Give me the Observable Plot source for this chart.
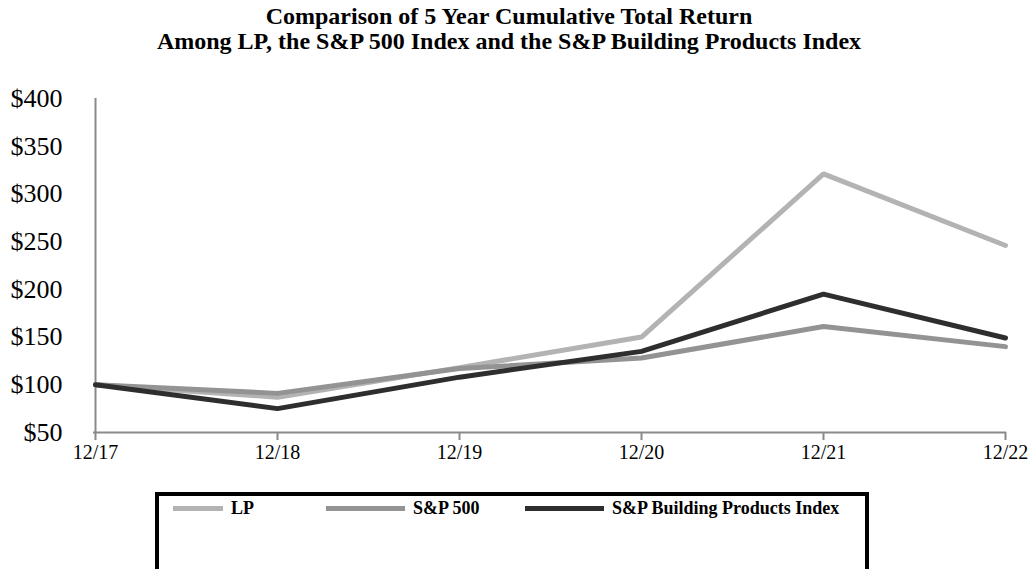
<!DOCTYPE html>
<html>
<head>
<meta charset="utf-8">
<script src="https://cdn.jsdelivr.net/npm/d3@7"></script>
<script src="https://cdn.jsdelivr.net/npm/@observablehq/plot@0.6"></script>
<style>
  html, body { margin: 0; padding: 0; background: #fff; width: 1033px; height: 569px; overflow: hidden; font-family: "Liberation Serif", "Times New Roman", serif; }
  #title { position: absolute; left: 0; top: 4px; width: 1018px; text-align: center; font-weight: bold; font-size: 24px; line-height: 25px; color: #000; }
  #chart { position: absolute; left: 0; top: 60px; }
  #legend { position: absolute; left: 155px; top: 492px; width: 706px; height: 120px; border: 4px solid #000; }
  .item { position: absolute; top: 2px; display: flex; align-items: center; font-weight: bold; font-size: 18px; }
  .sw { display: inline-block; width: 50px; height: 5px; margin-right: 8px; }
</style>
</head>
<body>
<div id="title">Comparison of 5 Year Cumulative Total Return<br>Among LP, the S&amp;P 500 Index and the S&amp;P Building Products Index</div>
<div id="chart"></div>
<div id="legend"></div>
<script>
const periods = ["12/17", "12/18", "12/19", "12/20", "12/21", "12/22"];
const lpValues = [100, 87, 118, 150, 321, 246];
const sp500Values = [100, 91, 117, 128, 161, 140];
const buildingValues = [100, 75, 108, 135, 195, 149];
const seriesNames = ["LP", "S&P 500", "S&P Building Products Index"];
const seriesColors = ["#b3b3b3", "#939393", "#2e2e2e"];
const yTicks = [50, 100, 150, 200, 250, 300, 350, 400];

const table = [];
[lpValues, sp500Values, buildingValues].forEach((vals, i) => {
  vals.forEach((v, j) => table.push({series: seriesNames[i], period: periods[j], value: v}));
});

const chart = Plot.plot({
  width: 1033,
  height: 402,
  marginLeft: 93,
  marginRight: 27,
  marginTop: 38,
  marginBottom: 30,
  style: {fontFamily: "Liberation Serif, Times New Roman, serif", color: "#000", background: "#fff", overflow: "visible"},
  x: {type: "point", domain: periods, padding: 0},
  y: {domain: [50, 400]},
  color: {domain: seriesNames, range: seriesColors},
  marks: [
    Plot.ruleX([periods[0]], {stroke: "#8a8a8a", strokeWidth: 2}),
    Plot.ruleY([50], {stroke: "#8a8a8a", strokeWidth: 2}),
    Plot.axisY({ticks: yTicks, tickSize: 0, tickPadding: 31, tickFormat: d => "$" + d, fontSize: 26, anchor: "left", label: null}),
    Plot.axisX({tickSize: 8, stroke: "#8a8a8a", strokeWidth: 2, tickPadding: 4, fontSize: 20, label: null}),
    Plot.line(table, {x: "period", y: "value", z: "series", stroke: "series", strokeWidth: 5, strokeLinejoin: "miter", curve: "linear"})
  ]
});
document.getElementById("chart").appendChild(chart);

const legendPos = [14, 167, 366];
const legend = document.getElementById("legend");
seriesNames.forEach((name, i) => {
  const item = document.createElement("div");
  item.className = "item";
  item.style.left = legendPos[i] + "px";
  const sw = document.createElement("span");
  sw.className = "sw";
  sw.style.background = seriesColors[i];
  sw.style.width = (i === 0 ? 50 : 79) + "px";
  item.appendChild(sw);
  item.appendChild(document.createTextNode(name));
  legend.appendChild(item);
});
</script>
</body>
</html>
